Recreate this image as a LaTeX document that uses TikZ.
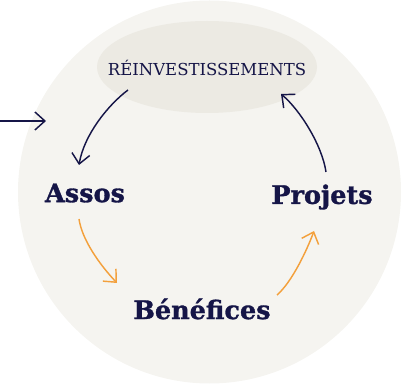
\documentclass[tikz,border=0pt]{standalone}
\usepackage{fontspec}
\setmainfont{DejaVu Serif}
\newfontfamily\heavyfont{DejaVu Serif Bold}[FakeBold=1.2]
\usetikzlibrary{arrows.meta}
\definecolor{bgc}{HTML}{F5F4F0}
\definecolor{ellc}{HTML}{ECEAE3}
\definecolor{navy}{HTML}{151547}
\definecolor{orng}{HTML}{F3A03C}
\tikzset{
  lbl/.style={text=navy, font=\heavyfont\fontsize{25.5}{30}\selectfont, inner sep=0pt},
  navyarrow/.style={draw=navy, line width=1.45pt, -{Straight Barb[length=10pt,width=18pt,line width=1.45pt]}},
  orarrow/.style={draw=orng, line width=1.45pt, -{Straight Barb[length=10pt,width=18pt,line width=1.45pt]}}
}
\begin{document}
\begin{tikzpicture}[x=1pt,y=-1pt]
\useasboundingbox (0,0) rectangle (415,387);
\fill[bgc] (209.5,192) circle (191.5);
\fill[ellc] (207,67) ellipse (110 and 46);
\node[text=navy, font=\fontsize{16.5}{20}\selectfont, inner sep=0pt] (rei) at (207,68) {RÉINVESTISSEMENTS};
\node[lbl] (assos) at (85,193) {Assos};
\node[lbl] (proj) at (322,197) {Projets};
\node[lbl] (bene) at (202,309) {Bénéfices};
\coordinate (in0) at (0,121);
\coordinate (in1) at (46,121);
\coordinate (r1) at (128,90);
\coordinate (a1) at (79,165);
\coordinate (a2) at (79,219);
\coordinate (b1) at (117,283);
\coordinate (b2) at (277,295);
\coordinate (p1) at (314,231);
\coordinate (p2) at (326,172);
\coordinate (r2) at (281,94);
\draw[navyarrow] (in0) -- (in1);
\draw[navyarrow] (r1) .. controls (108,105) and (84,135) .. (a1);
\draw[orarrow] (a2) .. controls (82,240) and (100,265) .. (b1);
\draw[orarrow] (b2) .. controls (292,282) and (307,250) .. (p1);
\draw[navyarrow] (p2) .. controls (322,145) and (300,110) .. (r2);
\end{tikzpicture}
\end{document}
